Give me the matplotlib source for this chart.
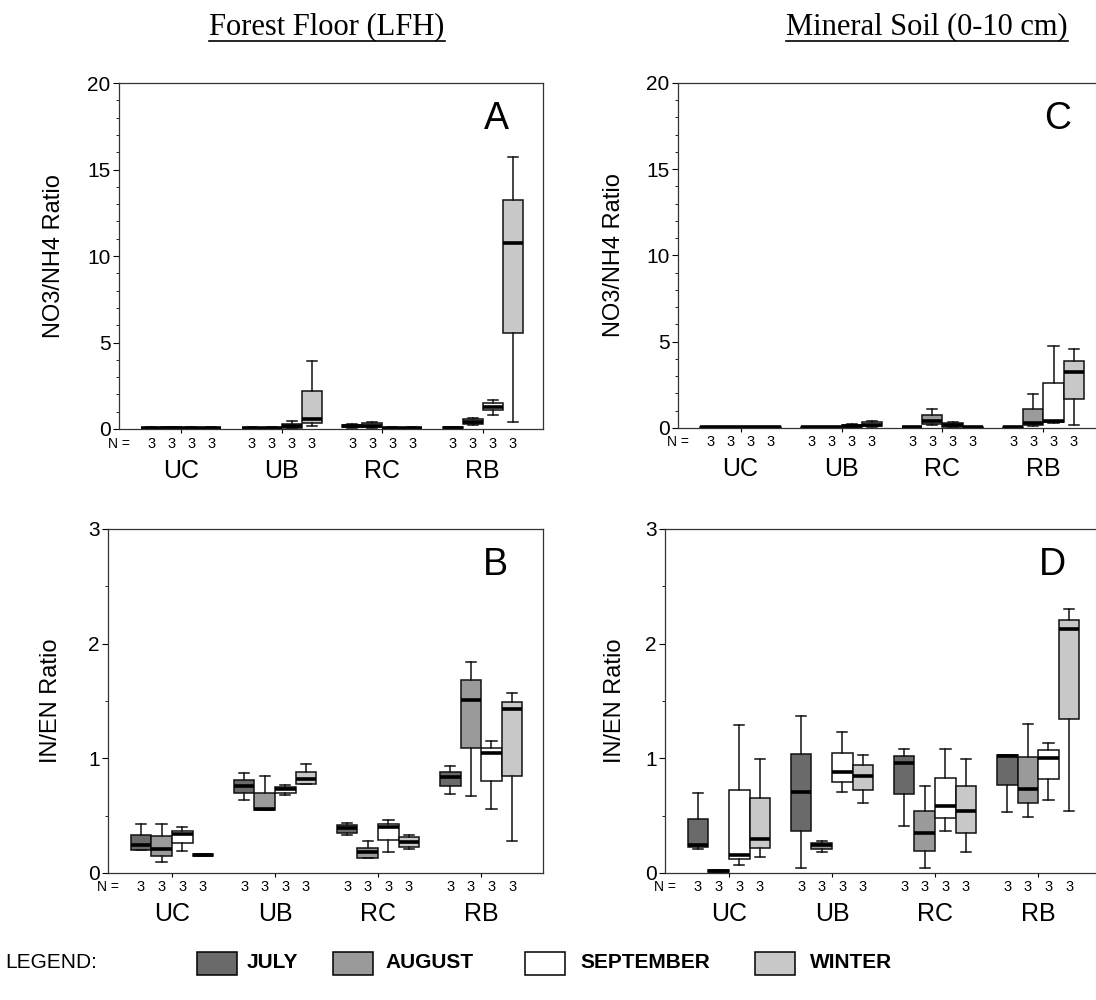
import matplotlib
matplotlib.use('Agg')
import matplotlib.pyplot as plt
import matplotlib.transforms as mtransforms
from matplotlib.patches import Rectangle
from matplotlib.lines import Line2D
from matplotlib.ticker import MultipleLocator

plt.rcParams['font.family'] = ['Liberation Sans', 'DejaVu Sans']

sites = ['UC', 'UB', 'RC', 'RB']
months = ['JULY', 'AUGUST', 'SEPTEMBER', 'WINTER']
month_colors = ['#6a6a6a', '#9a9a9a', '#ffffff', '#c8c8c8']
n_per_box = 3

# box stats per site (rows) and month (cols): whisker low, q1, median, q3, whisker high
# A - forest floor NO3/NH4
a_lo = [[.02, .02, .02, .02], [.02, .02, .05, .15], [.05, .08, .02, .02], [.02, .25, .80, .42]]
a_q1 = [[.03, .03, .03, .03], [.03, .03, .08, .33], [.10, .12, .03, .03], [.04, .29, 1.11, 5.57]]
a_med = [[.05, .05, .04, .04], [.04, .05, .15, .55], [.15, .20, .05, .04], [.06, .40, 1.30, 10.77]]
a_q3 = [[.08, .09, .07, .08], [.07, .08, .29, 2.21], [.25, .33, .08, .07], [.09, .58, 1.50, 13.26]]
a_hi = [[.10, .12, .09, .10], [.09, .10, .48, 3.94], [.30, .38, .10, .09], [.11, .62, 1.69, 15.7]]

# B - forest floor IN/EN
b_lo = [[.20, .10, .19, .15], [.64, .55, .68, .78], [.33, .13, .18, .21], [.69, .67, .56, .28]]
b_q1 = [[.20, .15, .26, .15], [.70, .55, .70, .78], [.35, .13, .29, .23], [.76, 1.09, .80, .85]]
b_med = [[.24, .21, .34, .16], [.76, .56, .73, .82], [.39, .18, .40, .27], [.84, 1.51, 1.05, 1.43]]
b_q3 = [[.33, .32, .37, .17], [.81, .70, .75, .88], [.42, .22, .43, .31], [.88, 1.68, 1.09, 1.49]]
b_hi = [[.43, .43, .40, .17], [.87, .85, .77, .95], [.44, .28, .46, .33], [.93, 1.84, 1.15, 1.57]]

# C - mineral soil NO3/NH4
c_lo = [[.01, .01, .01, .01], [.01, .02, .04, .08], [.02, .20, .06, .01], [.01, .10, .30, .16]]
c_q1 = [[.02, .02, .02, .02], [.02, .03, .06, .10], [.03, .22, .08, .02], [.02, .16, .35, 1.67]]
c_med = [[.03, .03, .03, .03], [.03, .05, .12, .20], [.05, .41, .15, .03], [.03, .30, .40, 3.22]]
c_q3 = [[.04, .04, .04, .04], [.04, .07, .20, .33], [.07, .78, .28, .04], [.05, 1.13, 2.58, 3.90]]
c_hi = [[.05, .05, .05, .05], [.05, .08, .25, .38], [.08, 1.09, .32, .05], [.06, 1.96, 4.77, 4.58]]

# D - mineral soil IN/EN
d_lo = [[.21, .01, .07, .14], [.04, .18, .71, .61], [.41, .04, .37, .18], [.53, .49, .64, .54]]
d_q1 = [[.23, .01, .12, .22], [.37, .21, .79, .72], [.69, .19, .48, .35], [.77, .61, .82, 1.34]]
d_med = [[.24, .02, .16, .30], [.71, .24, .88, .85], [.96, .35, .58, .54], [1.02, .73, 1.00, 2.13]]
d_q3 = [[.47, .03, .72, .65], [1.04, .26, 1.05, .94], [1.02, .54, .83, .76], [1.03, 1.01, 1.07, 2.21]]
d_hi = [[.70, .03, 1.29, .99], [1.37, .28, 1.23, 1.03], [1.08, .76, 1.08, .99], [1.03, 1.30, 1.13, 2.30]]

offsets = [-0.3, -0.1, 0.1, 0.3]

fig = plt.figure(figsize=(10.96, 10), dpi=100)


def rect(l, t, r, b):
    return [l / 1096, 1 - b / 1000, (r - l) / 1096, (b - t) / 1000]


def draw_panel(ax, lo, q1, med, q3, hi, ymax, major, minor, letter, ylabel, ylab_x):
    stats, pos, cols = [], [], []
    for i in range(len(sites)):
        for j in range(len(months)):
            stats.append(dict(whislo=lo[i][j], q1=q1[i][j], med=med[i][j],
                              q3=q3[i][j], whishi=hi[i][j], fliers=[]))
            pos.append(i + 1 + offsets[j])
            cols.append(month_colors[j])
    parts = ax.bxp(stats, positions=pos, widths=0.2, patch_artist=True,
                   showfliers=False, manage_ticks=False,
                   boxprops=dict(edgecolor='#111111', linewidth=1.1),
                   medianprops=dict(color='black', linewidth=2.6),
                   whiskerprops=dict(color='#111111', linewidth=1.1),
                   capprops=dict(color='#111111', linewidth=1.1))
    for b, c in zip(parts['boxes'], cols):
        b.set_facecolor(c)

    ax.set_xlim(0.38, 4.6)
    ax.set_ylim(0, ymax)
    ax.yaxis.set_major_locator(MultipleLocator(major))
    ax.yaxis.set_minor_locator(MultipleLocator(minor))
    ax.set_xticks(range(1, len(sites) + 1))
    ax.set_xticklabels([])
    ax.tick_params(axis='y', which='major', direction='out', length=4, labelsize=15, pad=2)
    ax.tick_params(axis='y', which='minor', direction='out', length=2.5)
    ax.tick_params(axis='x', direction='out', length=3)
    for s in ax.spines.values():
        s.set_color('#333333')
        s.set_linewidth(0.9)

    ax.set_ylabel(ylabel, fontsize=17)
    ax.yaxis.set_label_coords(ylab_x, 0.5)

    tr = mtransforms.blended_transform_factory(ax.transData, ax.transAxes)
    for p in pos:
        ax.text(p, -0.042, str(n_per_box), transform=tr, ha='center', va='center', fontsize=10.5)
    ax.text(0.0, -0.042, 'N =', transform=ax.transAxes, ha='center', va='center', fontsize=10)
    for i, s in enumerate(sites):
        ax.text(i + 1, -0.12, s, transform=tr, ha='center', va='center', fontsize=18)
    ax.text(0.89, 0.895, letter, transform=ax.transAxes, ha='center', va='center', fontsize=27)


ax_a = fig.add_axes(rect(119, 83, 543, 429))
ax_b = fig.add_axes(rect(108, 529, 543, 873))
ax_c = fig.add_axes(rect(678, 83, 1104, 428))
ax_d = fig.add_axes(rect(665, 529, 1100, 873))

draw_panel(ax_a, a_lo, a_q1, a_med, a_q3, a_hi, 20, 5, 1, 'A', 'NO3/NH4 Ratio', -0.127)
draw_panel(ax_b, b_lo, b_q1, b_med, b_q3, b_hi, 3, 1, 0.5, 'B', 'IN/EN Ratio', -0.106)
draw_panel(ax_c, c_lo, c_q1, c_med, c_q3, c_hi, 20, 5, 1, 'C', 'NO3/NH4 Ratio', -0.125)
draw_panel(ax_d, d_lo, d_q1, d_med, d_q3, d_hi, 3, 1, 0.5, 'D', 'IN/EN Ratio', -0.09)

# column titles (underlined)
titles = []
titles.append(fig.text(327 / 1096, 1 - 27 / 1000, 'Forest Floor (LFH)', family='Liberation Serif',
                       fontsize=22, ha='center', va='center'))
titles.append(fig.text(927 / 1096, 1 - 27 / 1000, 'Mineral Soil (0-10 cm)', family='Liberation Serif',
                       fontsize=22, ha='center', va='center'))
fig.canvas.draw()
inv = fig.transFigure.inverted()
for t in titles:
    bb = t.get_window_extent()
    (x0, y0), (x1, _) = inv.transform([(bb.x0, bb.y0 + 1), (bb.x1, bb.y0 + 1)])
    fig.add_artist(Line2D([x0, x1], [y0, y0], transform=fig.transFigure, color='black', linewidth=1.2))

# legend
fig.text(5 / 1096, 1 - 963 / 1000, 'LEGEND:', fontsize=15, va='center', ha='left')
box_x = [197, 333, 525, 755]
text_x = [247, 385, 580, 810]
for m, c, bx, tx in zip(months, month_colors, box_x, text_x):
    fig.add_artist(Rectangle((bx / 1096, 1 - 975 / 1000), 40 / 1096, 23 / 1000,
                             transform=fig.transFigure, facecolor=c, edgecolor='black', linewidth=1.1))
    fig.text(tx / 1096, 1 - 963 / 1000, m, fontsize=15, fontweight='bold', va='center', ha='left')

fig.savefig('out.png', dpi=100)
